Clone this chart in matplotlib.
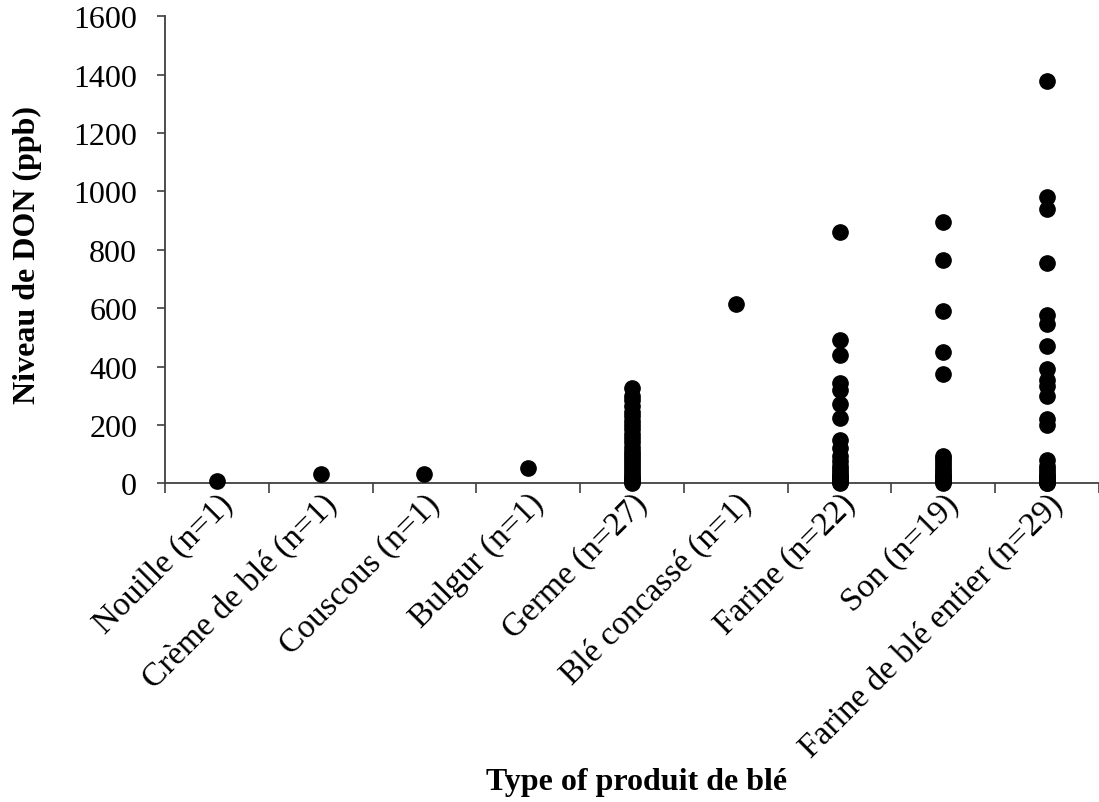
import numpy as np
import matplotlib.pyplot as plt

plt.rcParams['font.family'] = ['Liberation Serif', 'DejaVu Serif']

# DON levels (ppb) per wheat product type
produits = ['Nouille (n=1)', 'Crème de blé (n=1)', 'Couscous (n=1)', 'Bulgur (n=1)',
            'Germe (n=27)', 'Blé concassé (n=1)', 'Farine (n=22)', 'Son (n=19)',
            'Farine de blé entier (n=29)']

nouille = [9]
creme = [32]
couscous = [32]
bulgur = [51]
germe = [325, 300, 285, 265, 245, 230, 215, 200, 185, 170, 155, 140, 125, 110,
         100, 90, 80, 70, 60, 50, 40, 30, 20, 15, 10, 5, 0]
ble_concasse = [613]
farine = [860, 490, 440, 345, 320, 270, 225, 150, 120, 95, 75, 60, 50, 40, 30,
          25, 20, 15, 10, 6, 3, 0]
son = [895, 765, 590, 450, 375, 95, 85, 75, 65, 55, 45, 40, 30, 25, 20, 15, 10, 5, 0]
farine_entier = [1380, 980, 940, 755, 575, 545, 470, 390, 355, 335, 300, 220, 200,
                 80, 60, 50, 40, 30, 25, 20, 15, 12, 10, 8, 6, 5, 3, 2, 0]

groupes = [nouille, creme, couscous, bulgur, germe, ble_concasse, farine, son, farine_entier]

fig = plt.figure(figsize=(10.99, 8.03), dpi=100)
ax = fig.add_axes([165 / 1099, (803 - 484.3) / 803, 934 / 1099, 467 / 803])

for i, vals in enumerate(groupes):
    ax.plot(np.full(len(vals), i + 0.5), vals, 'o', color='black', ms=11,
            clip_on=False, zorder=3)

ax.set_xlim(0, 934 / 104.9)
ax.set_ylim(0, 1600)
ax.set_yticks(np.arange(0, 1601, 200))

# tick marks sit on the category boundaries; names go under each centre
ax.set_xticks(np.arange(0, 10))
ax.set_xticklabels([])
for i, nom in enumerate(produits):
    ax.annotate(nom, xy=(i + 0.5, 0), xycoords=('data', 'axes fraction'),
                xytext=(8, -11), textcoords='offset points', rotation=45,
                ha='right', va='center', rotation_mode='anchor', fontsize=24,
                annotation_clip=False)

ax.tick_params(axis='x', direction='out', length=7, width=1.2, color='#404040')
ax.tick_params(axis='y', direction='out', length=6, width=1.2, color='#404040',
               labelsize=23, pad=14)

for s in ['top', 'right']:
    ax.spines[s].set_visible(False)
for s in ['left', 'bottom']:
    ax.spines[s].set_linewidth(1.3)
    ax.spines[s].set_color('#404040')

ax.set_ylabel('Niveau de DON (ppb)', fontsize=23, fontweight='bold')
ax.yaxis.set_label_coords(-0.132, 0.49)
fig.text(637 / 1099, 1 - 783 / 803, 'Type of produit de blé', fontsize=23,
         fontweight='bold', ha='center', va='center')

fig.savefig('out.png', dpi=100)
